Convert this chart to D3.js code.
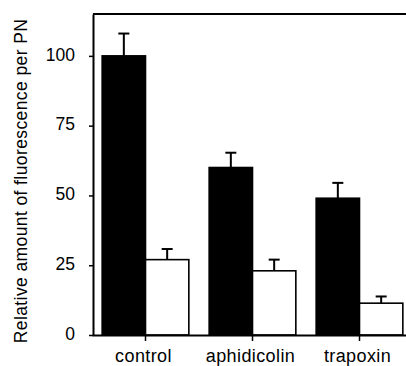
<!DOCTYPE html>
<html>
<head>
<meta charset="utf-8">
<script src="https://cdn.jsdelivr.net/npm/d3@7"></script>
<style>
  html, body { margin: 0; padding: 0; background: #fff; }
  svg { display: block; }
  text { font-family: "Liberation Sans", Arial, sans-serif; fill: #000; }
</style>
</head>
<body>
<svg id="chart" width="406" height="366"></svg>
<script>
// Treatments along the x axis
const categories = ["control", "aphidicolin", "trapoxin"];
// Two series per treatment: filled (black) and open (white) bars
const seriesKeys = ["filled", "open"];
const filledValues = [100, 60, 49];
const filledErrors = [8, 5.3, 5.5];
const openValues = [27, 23, 11.4];
const openErrors = [3.8, 4, 2.4];
const yTicks = [0, 25, 50, 75, 100];
const yTitle = "Relative amount of fluorescence per PN";

const svg = d3.select("#chart");
const W = 406, H = 366;
const plotLeft = 93, plotTop = 14, plotBottom = 335, plotRight = 413;

const y = d3.scaleLinear().domain([0, 115]).range([plotBottom, plotTop]);
const x0 = d3.scaleBand().domain(categories).range([plotLeft - 1, plotRight])
  .paddingInner(0.19).paddingOuter(0.095);
const x1 = d3.scaleBand().domain(seriesKeys).range([0, x0.bandwidth()]);

const rows = categories.map((c, i) => ({
  cat: c,
  bars: [
    { key: "filled", v: filledValues[i], e: filledErrors[i] },
    { key: "open", v: openValues[i], e: openErrors[i] }
  ]
}));

// Error bars (upper half only), drawn beneath the bars
const errG = svg.append("g");
rows.forEach(r => r.bars.forEach(b => {
  const cx = x0(r.cat) + x1(b.key) + x1.bandwidth() / 2;
  errG.append("line")
    .attr("x1", cx).attr("x2", cx)
    .attr("y1", y(b.v)).attr("y2", y(b.v + b.e))
    .attr("stroke", "#000").attr("stroke-width", 2);
  errG.append("line")
    .attr("x1", cx - 5.5).attr("x2", cx + 5.5)
    .attr("y1", y(b.v + b.e)).attr("y2", y(b.v + b.e))
    .attr("stroke", "#000").attr("stroke-width", 2);
}));

// Bars
const g = svg.append("g");
rows.forEach(r => r.bars.forEach(b => {
  g.append("rect")
    .attr("x", x0(r.cat) + x1(b.key))
    .attr("y", y(b.v))
    .attr("width", x1.bandwidth())
    .attr("height", y(0) - y(b.v))
    .attr("fill", b.key === "filled" ? "#000" : "#fff")
    .attr("stroke", "#000")
    .attr("stroke-width", 1.6);
}));

// Top frame line
svg.append("line")
  .attr("x1", plotLeft).attr("x2", W + 5)
  .attr("y1", plotTop).attr("y2", plotTop)
  .attr("stroke", "#000").attr("stroke-width", 2);

// Y axis
const yAxis = svg.append("g")
  .attr("transform", `translate(${plotLeft},0)`)
  .call(d3.axisLeft(y).tickValues(yTicks).tickSize(4).tickPadding(14).tickSizeOuter(0));
yAxis.select(".domain").attr("stroke-width", 2);
yAxis.selectAll(".tick line").attr("stroke-width", 1.5);
yAxis.selectAll("text")
  .attr("font-size", 17.5)
  .attr("dy", "0.24em")
  .style("font-family", "Liberation Sans, Arial, sans-serif");

// X axis
const xAxis = svg.append("g")
  .attr("transform", `translate(0,${plotBottom})`)
  .call(d3.axisBottom(x0).tickSize(6).tickPadding(8).tickSizeOuter(0));
xAxis.select(".domain").attr("stroke-width", 2);
xAxis.selectAll(".tick line").attr("stroke-width", 1.5);
xAxis.selectAll("text")
  .attr("font-size", 18)
  .attr("x", -2)
  .style("letter-spacing", "0.4px")
  .style("font-family", "Liberation Sans, Arial, sans-serif");

// Y axis title
svg.append("text")
  .attr("transform", `translate(27,${181}) rotate(-90)`)
  .attr("text-anchor", "middle")
  .attr("font-size", 17.5)
  .style("letter-spacing", "0.4px")
  .text(yTitle);
</script>
</body>
</html>
